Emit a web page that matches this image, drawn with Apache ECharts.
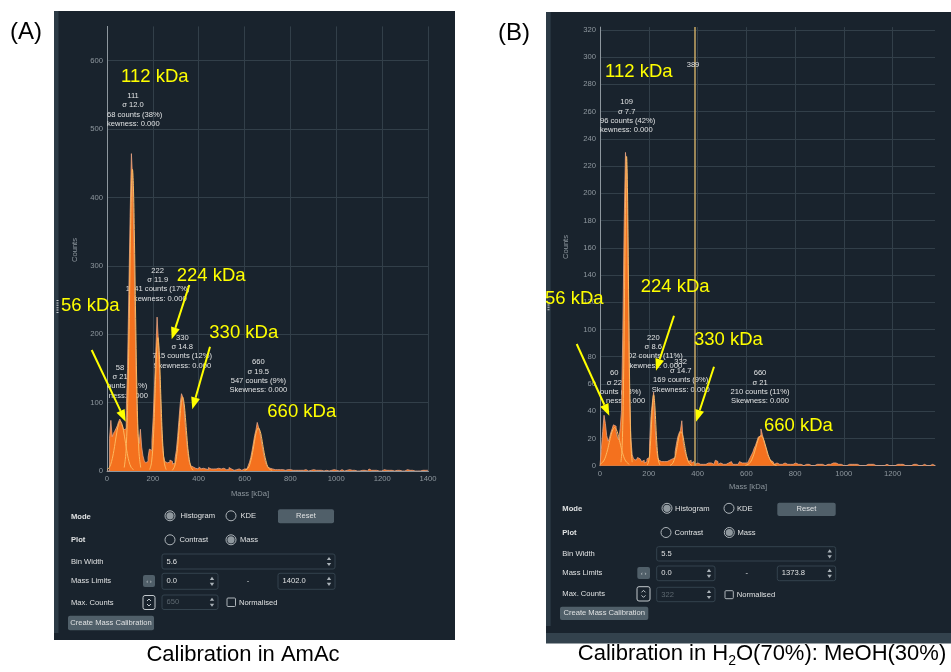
<!DOCTYPE html>
<html>
<head>
<meta charset="utf-8">
<script src="https://cdn.jsdelivr.net/npm/echarts@6/dist/echarts.min.js"></script>
<style>
html, body { margin: 0; padding: 0; background: #fff; }
#chart { width: 951px; height: 672px; }
</style>
</head>
<body>
<div id="chart"></div>
<script>
// histogram settings
const binWidthA = 5.6, binWidthB = 5.5
const massMaxA = 1402.0, massMaxB = 1373.8
const countMaxA = 650, countMaxB = 322
const massStep = 200, countStepA = 100, countStepB = 20
const cursorB = 389

// counts per bin (A: AmAc, B: H2O/MeOH)
const countsA = [
  0,0,48,74,50,55,58,62,66,72,
  76,70,66,60,62,88,150,262,372,464,
  425,330,210,110,55,40,61,35,22,15,
  12,14,20,32,30,45,78,125,175,225,
  190,140,85,42,22,14,12,10,13,16,
  14,10,12,18,30,50,74,98,113,108,
  92,66,44,26,14,8,6,5,4,5,
  3,4,6,3,4,5,3,4,2,5,
  3,4,3,2,3,5,4,2,3,2,
  4,3,2,3,2,5,3,2,1,3,
  2,2,3,2,1,2,3,2,3,5,
  8,13,20,30,41,52,60,71,64,57,
  46,35,25,16,10,6,4,5,3,4,
  2,3,2,1,2,3,2,2,1,3,
  2,1,2,2,1,3,1,2,1,2,
  1,2,1,1,2,1,0,2,1,1,
  2,1,1,0,1,2,1,1,0,1,
  1,2,0,1,1,1,2,0,1,1,
  0,1,2,1,0,1,1,0,2,1,
  1,0,1,1,0,1,0,2,1,0,
  1,1,0,1,3,1,0,1,0,1,
  1,0,1,0,1,2,0,1,0,1,
  0,1,1,0,2,1,0,1,0,0,
  1,0,1,2,0,1,0,1,1,0,
  1,0,1,0,1,1,0,1,0,1
]
const countsB = [
  0,12,25,37,31,22,18,20,24,27,
  30,29,25,21,19,27,40,98,176,230,
  216,140,58,20,8,5,4,3,6,5,
  4,3,4,2,3,5,6,16,36,46,
  54,30,14,6,4,3,2,3,2,3,
  2,4,3,5,4,6,10,16,21,24,
  26,33,18,12,8,5,3,4,2,3,
  2,1,2,3,1,2,1,2,1,1,
  2,1,2,1,1,2,4,3,1,2,
  1,1,2,1,1,2,1,3,2,1,
  1,2,1,1,3,2,1,2,1,2,
  3,4,6,8,10,13,15,18,21,22,
  27,23,19,15,12,8,6,4,3,2,
  1,2,3,1,2,1,1,2,1,1,
  2,1,0,1,1,2,1,1,0,1,
  1,0,1,1,0,1,1,0,1,0,
  1,1,0,1,0,1,1,0,1,1,
  0,1,1,2,3,2,1,1,0,1,
  1,0,1,0,1,1,0,1,0,1,
  0,1,1,0,1,0,1,0,1,1,
  0,1,0,1,1,0,1,0,1,0,
  1,0,1,1,0,0,1,0,1,0,
  0,1,0,1,0,1,0,0,1,0,
  1,0,0,1,0,1,0,0,1,0,
  0,1,0,0,1,0,0,1,0,0
]

// gaussian fit curves, [mass, counts]
const fitA56 = [[0,2],[10,5],[20,14],[30,30],[40,51],[50,68],[58,73],[66,68],[76,51],[86,30],[96,14],[106,5],[116,2]]
const fitA112 = [[75,5],[83,29],[91,110],[97,223],[103,353],[107,417],[111,441],[115,417],[119,353],[125,223],[131,110],[139,29],[147,5]]
const fitA224 = [[186,2],[194,12],[202,47],[208,98],[214,156],[218,184],[222,195],[226,184],[230,156],[236,98],[242,47],[250,12],[258,2]]
const fitA330 = [[285,1],[295,7],[305,26],[312,52],[318,78],[324,99],[330,108],[336,99],[342,78],[348,52],[355,26],[365,7],[375,1]]
const fitA660 = [[600,1],[615,4],[627,15],[637,31],[645,47],[652,58],[660,63],[668,58],[675,47],[683,31],[693,15],[705,4],[720,1]]
const fitB56 = [[0,1],[15,3.5],[28,9.7],[38,17],[46,23],[53,26.6],[60,28],[67,26.6],[74,23],[82,17],[92,9.7],[105,3.5],[120,1]]
const fitB112 = [[86,2.6],[91,15],[96,55],[100,115],[103,168],[106,210],[109,227],[112,210],[115,168],[118,115],[122,55],[127,15],[132,2.6]]
const fitB224 = [[194,0.5],[200,3.5],[206,14],[211,30],[215,44],[220,52],[225,44],[229,30],[234,14],[240,3.5],[246,0.5]]
const fitB330 = [[287,0.2],[297,1.5],[307,5.9],[314,11.8],[320,18],[326,23],[332,25],[338,23],[344,18],[350,11.8],[357,5.9],[367,1.5],[377,0.2]]
const fitB660 = [[596,0.2],[612,1.6],[625,5.5],[635,10.8],[644,16.5],[652,20.5],[660,22],[668,20.5],[676,16.5],[685,10.8],[695,5.5],[708,1.6],[724,0.2]]

// fit result labels (parts cut off by the plot edge are left out, as in the screenshot)
const peakTextA = [
  ['111', 'σ 12.0', '68 counts (38%)', 'kewness: 0.000'],
  ['58', 'σ 21', 'ounts (11%)', 'ness: 0.000'],
  ['222', 'σ 11.9', '1041 counts (17%)', 'Skewness: 0.000'],
  ['330', 'σ 14.8', '715 counts (12%)', 'Skewness: 0.000'],
  ['660', 'σ 19.5', '547 counts (9%)', 'Skewness: 0.000']
]
const peakTextB = [
  ['109', 'σ 7.7', '96 counts (42%)', 'kewness: 0.000'],
  ['60', 'σ 22', 'ounts (13%)', 'ness: 0.000'],
  ['220', 'σ 8.6', '202 counts (11%)', 'Skewness: 0.000'],
  ['332', 'σ 14.7', '169 counts (9%)', 'Skewness: 0.000'],
  ['660', 'σ 21', '210 counts (11%)', 'Skewness: 0.000']
]
const massNames = ['112 kDa', '56 kDa', '224 kDa', '330 kDa', '660 kDa']

const UI = '"Liberation Sans", Arial, sans-serif'
const BG = '#19232d', AX = '#8e979e', GRID = '#323f49', TXT = '#dfe1e2'
const BTN = '#505f69', YEL = '#ffff00'

const g = []
function txt(x, y, s, o) {
  o = o || {}
  g.push({
    type: 'text', x: x, y: y, z: o.z || 30, silent: true, rotation: o.rot || 0,
    style: {
      text: s, fill: o.fill || TXT,
      font: (o.bold ? 'bold ' : '') + (o.size || 7.6) + 'px ' + (o.family || UI),
      textAlign: o.align || 'left', textVerticalAlign: 'middle'
    }
  })
}
function box(x, y, w, h, o) {
  g.push({
    type: 'rect', z: o.z === undefined ? 10 : o.z, silent: true,
    shape: { x: x, y: y, width: w, height: h, r: o.r || 0 },
    style: { fill: o.fill || 'none', stroke: o.stroke || null, lineWidth: o.lw || 1 }
  })
}
function tri(cx, cy, up, col) {
  const h = up ? -1.6 : 1.6
  g.push({ type: 'polygon', z: 12, silent: true,
    shape: { points: [[cx - 2.2, cy - h], [cx + 2.2, cy - h], [cx, cy + h]] },
    style: { fill: col || '#aab2b8' } })
}
function radio(cx, cy, on) {
  g.push({ type: 'circle', z: 10, silent: true, shape: { cx: cx, cy: cy, r: 5 },
    style: { fill: BG, stroke: '#aeb5ba', lineWidth: 1 } })
  if (on) g.push({ type: 'circle', z: 11, silent: true, shape: { cx: cx, cy: cy, r: 3.6 },
    style: { fill: '#8f989e' } })
}
function spin(x1, y1, x2, y2, s, dis) {
  box(x1, y1, x2 - x1, y2 - y1, { fill: BG, stroke: '#34434e', r: 2 })
  txt(x1 + 4.5, (y1 + y2) / 2, s, { fill: dis ? '#5d6870' : TXT })
  const cy = (y1 + y2) / 2
  tri(x2 - 6, cy - 3, true)
  tri(x2 - 6, cy + 3, false)
}
function button(x, y, w, h, s) {
  box(x, y, w, h, { fill: BTN, r: 2 })
  txt(x + w / 2, y + h / 2, s, { align: 'center' })
}
function chevBox(x, y, w, h) {
  box(x, y, w, h, { fill: BG, stroke: '#c3c9cd', r: 2 })
  const cx = x + w / 2, cy = y + h / 2
  g.push({ type: 'polyline', z: 12, silent: true, shape: { points: [[cx - 2, cy - 1.5], [cx, cy - 3.5], [cx + 2, cy - 1.5]] }, style: { stroke: '#c3c9cd', lineWidth: 1 } })
  g.push({ type: 'polyline', z: 12, silent: true, shape: { points: [[cx - 2, cy + 1.5], [cx, cy + 3.5], [cx + 2, cy + 1.5]] }, style: { stroke: '#c3c9cd', lineWidth: 1 } })
}
function arrow(x1, y1, x2, y2) {
  const a = Math.atan2(y2 - y1, x2 - x1), L = 12, W = 4.5
  const bx = x2 - L * Math.cos(a), by = y2 - L * Math.sin(a)
  g.push({ type: 'line', z: 40, silent: true, shape: { x1: x1, y1: y1, x2: bx, y2: by }, style: { stroke: YEL, lineWidth: 2 } })
  g.push({ type: 'polygon', z: 40, silent: true,
    shape: { points: [[x2, y2], [bx + W * Math.sin(a), by - W * Math.cos(a)], [bx - W * Math.sin(a), by + W * Math.cos(a)]] },
    style: { fill: YEL } })
}
function peakLabel(lines, cx, y0, cutX) {
  lines.forEach(function (s, k) {
    const y = y0 + k * 9.3
    if (cutX && k >= 2) txt(cutX[k - 2], y, s, { z: 2 })
    else txt(cx, y, s, { align: 'center', z: 2 })
  })
}
function handle(x, y1, y2) {
  g.push({ type: 'line', z: 12, silent: true, shape: { x1: x, y1: y1, x2: x, y2: y2 },
    style: { stroke: '#c8ccd0', lineWidth: 2, lineDash: [1, 1.4] } })
}

// ---------- panel A ----------
box(54, 11, 401, 629, { fill: BG, z: 0 })
box(54, 11, 4.5, 622, { fill: '#2c3a45', z: 0 })
handle(57.5, 300, 313)
txt(75, 250, 'Counts', { rot: Math.PI / 2, align: 'center', fill: AX })
txt(250, 494, 'Mass [kDa]', { align: 'center', fill: AX })
peakLabel(peakTextA[0], 133, 96, [107, 107])
peakLabel(peakTextA[1], 120, 367.7, [107, 108.7])
peakLabel(peakTextA[2], 157.7, 270.7)
peakLabel(peakTextA[3], 182.3, 337.7)
peakLabel(peakTextA[4], 258.3, 362.3)
const yFont = { size: 18.5, fill: YEL, z: 40 }
txt(121, 76.7, massNames[0], yFont)
txt(61, 305.5, massNames[1], yFont)
txt(176.7, 275.8, massNames[2], yFont)
txt(209.3, 333.3, massNames[3], yFont)
txt(267.3, 411.7, massNames[4], yFont)
arrow(91.7, 350, 125.7, 421.7)
arrow(189.3, 285, 171.7, 339.3)
arrow(210, 346.7, 192.3, 409.3)

txt(71, 516.7, 'Mode', { bold: true })
radio(170, 515.8, true); txt(180.5, 516, 'Histogram')
radio(231, 515.8, false); txt(240.5, 516, 'KDE')
button(278, 509.3, 56, 14, 'Reset')
txt(71, 540, 'Plot', { bold: true })
radio(170, 539.8, false); txt(179.5, 540, 'Contrast')
radio(231, 539.8, true); txt(240, 540, 'Mass')
txt(71, 562, 'Bin Width')
spin(162, 554, 335, 569, '5.6')
txt(71, 581, 'Mass Limits')
button(143, 575, 12, 12, '')
txt(149, 581, '‹ ›', { size: 6, align: 'center', fill: '#c3c9cd' })
spin(162, 573.3, 218, 589.3, '0.0')
txt(248, 581, '-', { align: 'center' })
spin(278, 573.3, 335, 589.3, '1402.0')
txt(71, 602.5, 'Max. Counts')
chevBox(143, 595.5, 12, 14)
spin(162, 595, 218, 609.5, '650', true)
box(227, 598, 8.5, 8.5, { stroke: '#aeb5ba', r: 1 })
txt(239, 602.5, 'Normalised')
button(68, 615.7, 86, 14.5, 'Create Mass Calibration')

// ---------- panel B ----------
box(546, 12, 405, 621, { fill: BG, z: 0 })
box(546, 12, 4.7, 614, { fill: '#2c3a45', z: 0 })
box(546, 633, 405, 10.5, { fill: '#33424d', z: 0 })
handle(548.5, 302, 311)
txt(566, 247, 'Counts', { rot: Math.PI / 2, align: 'center', fill: AX })
txt(748, 487, 'Mass [kDa]', { align: 'center', fill: AX })
txt(693, 65, String(cursorB), { align: 'center', z: 30 })
peakLabel(peakTextB[0], 626.7, 102.3, [600, 600])
peakLabel(peakTextB[1], 614.3, 373.3, [600, 606])
peakLabel(peakTextB[2], 653.3, 337.7)
peakLabel(peakTextB[3], 680.7, 361.7)
peakLabel(peakTextB[4], 760, 373.3)
txt(605, 71.7, massNames[0], yFont)
txt(545, 299.3, massNames[1], yFont)
txt(640.7, 286.7, massNames[2], yFont)
txt(694, 340, massNames[3], yFont)
txt(764, 426, massNames[4], yFont)
arrow(576.7, 344, 609.3, 415.7)
arrow(674, 315.7, 656, 370.7)
arrow(714, 366.7, 696, 421.7)

txt(562.3, 509.3, 'Mode', { bold: true })
radio(667, 508.3, true); txt(675, 508.5, 'Histogram')
radio(729, 508.3, false); txt(737, 508.5, 'KDE')
button(777.3, 502.7, 58.4, 13.3, 'Reset')
txt(562.3, 532.7, 'Plot', { bold: true })
radio(666, 532.5, false); txt(674.5, 532.7, 'Contrast')
radio(729.3, 532.5, true); txt(737.5, 532.7, 'Mass')
txt(562.3, 554.3, 'Bin Width')
spin(656.7, 546.7, 835.7, 561, '5.5')
txt(562.3, 573.3, 'Mass Limits')
button(637.3, 567, 12.7, 12, '')
txt(643.7, 573, '‹ ›', { size: 6, align: 'center', fill: '#c3c9cd' })
spin(656.7, 566, 715, 580.7, '0.0')
txt(746.7, 573.3, '-', { align: 'center' })
spin(777.3, 566, 835.7, 580.7, '1373.8')
txt(562.3, 594.3, 'Max. Counts')
chevBox(637, 586.7, 13, 14.3)
spin(656.7, 587.3, 715, 601.7, '322', true)
box(725, 590.7, 8.3, 8, { stroke: '#aeb5ba', r: 1 })
txt(736.7, 594.5, 'Normalised')
button(560, 606.7, 88.3, 13.3, 'Create Mass Calibration')

// ---------- figure labels and captions ----------
const CAP = '"Liberation Sans", Arial, sans-serif'
txt(10, 32, '(A)', { size: 24, fill: '#000', family: CAP, z: 50 })
txt(498, 33, '(B)', { size: 24, fill: '#000', family: CAP, z: 50 })
txt(243, 655, 'Calibration in AmAc', { size: 22, fill: '#000', family: CAP, align: 'center', z: 50 })
const mctx = document.createElement('canvas').getContext('2d')
function tw(s, size) { mctx.font = size + 'px ' + CAP; return mctx.measureText(s).width }
const capB = ['Calibration in H', '2', 'O(70%): MeOH(30%)']
const capW = [tw(capB[0], 22), tw(capB[1], 14), tw(capB[2], 22)]
let cx0 = 762 - (capW[0] + capW[1] + capW[2]) / 2
txt(cx0, 654, capB[0], { size: 22, fill: '#000', family: CAP, z: 50 })
txt(cx0 + capW[0], 661, capB[1], { size: 14, fill: '#000', family: CAP, z: 50 })
txt(cx0 + capW[0] + capW[1], 654, capB[2], { size: 22, fill: '#000', family: CAP, z: 50 })

// ---------- chart ----------
function hist(counts, bw) {
  const d = counts.map(function (c, i) { return [+(i * bw).toFixed(2), c] })
  d.push([+(counts.length * bw).toFixed(2), 0])
  return d
}
function xAx(i, max) {
  return {
    gridIndex: i, type: 'value', min: 0, max: max, interval: massStep, z: 1,
    axisLine: { show: true, onZero: false, lineStyle: { color: AX } },
    axisTick: { show: false },
    axisLabel: { color: AX, fontSize: 7.7, fontFamily: UI, margin: 4,
      formatter: function (v) { return v % massStep === 0 ? String(v) : '' } },
    splitLine: { show: true, showMaxLine: false, lineStyle: { color: GRID } }
  }
}
function yAx(i, max, step) {
  return {
    gridIndex: i, type: 'value', min: 0, max: max, interval: step, z: 1,
    axisLine: { show: true, lineStyle: { color: AX } },
    axisTick: { show: false },
    axisLabel: { color: AX, fontSize: 7.7, fontFamily: UI, margin: 4,
      formatter: function (v) { return v % step === 0 ? String(v) : '' } },
    splitLine: { show: true, showMaxLine: false, showMinLine: false, lineStyle: { color: GRID } }
  }
}
function histSeries(i, data) {
  return {
    type: 'line', xAxisIndex: i, yAxisIndex: i, step: 'end', symbol: 'none', z: 3,
    data: data, lineStyle: { color: '#e4a283', width: 0.8 },
    areaStyle: { color: '#f4711e', opacity: 1 }
  }
}
function fitSeries(i, data) {
  return {
    type: 'line', xAxisIndex: i, yAxisIndex: i, smooth: 0.4, symbol: 'none', z: 4,
    data: data, lineStyle: { color: '#fcb85e', width: 1 }
  }
}

const seriesB = histSeries(1, hist(countsB, binWidthB))
seriesB.markLine = {
  silent: true, symbol: ['none', 'none'], label: { show: false },
  lineStyle: { color: '#c7a864', width: 1.5, type: 'solid' },
  data: [{ xAxis: cursorB }]
}

const chart = echarts.init(document.getElementById('chart'))
chart.setOption({
  animation: false,
  backgroundColor: '#ffffff',
  grid: [
    { left: 107, top: 26.4, right: 522.5, bottom: 201 },
    { left: 600, top: 27.1, right: 16, bottom: 206.3 }
  ],
  xAxis: [xAx(0, massMaxA), xAx(1, massMaxB)],
  yAxis: [yAx(0, countMaxA, countStepA), yAx(1, countMaxB, countStepB)],
  series: [
    histSeries(0, hist(countsA, binWidthA)),
    fitSeries(0, fitA56), fitSeries(0, fitA112), fitSeries(0, fitA224), fitSeries(0, fitA330), fitSeries(0, fitA660),
    seriesB,
    fitSeries(1, fitB56), fitSeries(1, fitB112), fitSeries(1, fitB224), fitSeries(1, fitB330), fitSeries(1, fitB660)
  ],
  graphic: { elements: g }
})
</script>
</body>
</html>
